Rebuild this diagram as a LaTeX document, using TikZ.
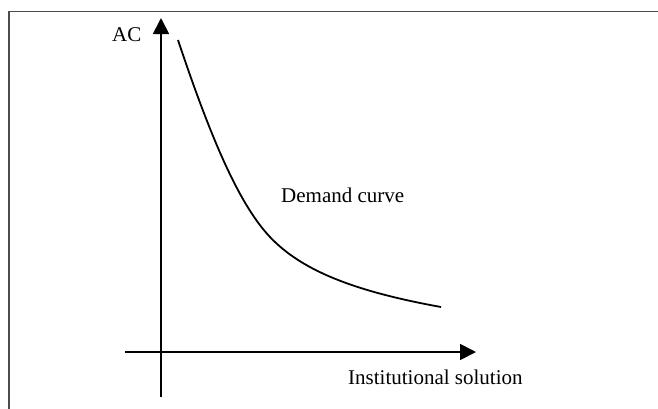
\documentclass[tikz,border=0pt]{standalone}
\usepackage{fontspec}
\setmainfont{Liberation Serif}
\usetikzlibrary{arrows.meta}
\tikzset{
  frameline/.style={draw=black!70, line width=1.3pt},
  axis/.style={draw=black, line width=1.8pt, -{Triangle[length=16pt,width=16pt]}},
  curveline/.style={draw=black, line width=1.8pt},
  lbl/.style={font=\fontsize{21}{24}\selectfont, inner sep=0pt, anchor=base west}
}
\begin{document}
\begin{tikzpicture}[x=1pt,y=-1pt]
\useasboundingbox (0,0) rectangle (658,408);
\draw[frameline] (9,410) -- (9,11.5) -- (660,11.5);
% axes
\coordinate (ybot) at (161,397);
\coordinate (ytop) at (161,18);
\coordinate (xleft) at (125,352);
\coordinate (xright) at (476,352);
\draw[axis] (ybot) -- (ytop);
\draw[axis] (xleft) -- (xright);
% curve
\coordinate (c0) at (178,40);
\coordinate (c1) at (270,237);
\coordinate (c2) at (441,307);
\draw[curveline] (c0) .. controls (213.9,147.7) and (241.5,206.8) .. (c1)
  .. controls (301.2,270) and (352.5,291) .. (c2);
% labels
\node[lbl] (ac) at (112,41) {AC};
\node[lbl] (dc) at (281,202) {Demand curve};
\node[lbl] (is) at (348,384) {Institutional solution};
\end{tikzpicture}
\end{document}
